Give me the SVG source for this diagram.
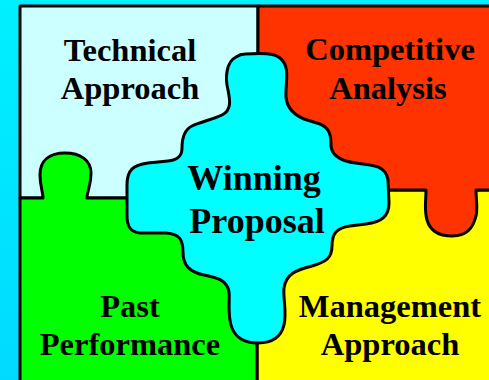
<svg xmlns="http://www.w3.org/2000/svg" width="489" height="380" viewBox="0 0 489 380">
<defs>
<linearGradient id="bg" x1="0" y1="0" x2="0" y2="1">
<stop offset="0" stop-color="#00F0FF"/>
<stop offset="1" stop-color="#00DAFF"/>
</linearGradient>
</defs>
<style>
.p{stroke:#000;stroke-width:3;stroke-linejoin:round}
.t{font-family:"Liberation Serif","Times New Roman",serif;font-weight:bold;font-size:32.5px;fill:#000;text-anchor:middle}
.big{font-size:36px}
</style>
<rect width="489" height="380" fill="url(#bg)"/>
<g id="technical">
<rect class="p" x="20" y="6" width="238" height="192" fill="#CCFFFF"/>
<text class="t" x="130" y="61">Technical</text>
<text class="t" x="130" y="99">Approach</text>
</g>
<g id="management">
<rect class="p" x="257" y="190" width="236" height="195" fill="#FFFF00"/>
<text class="t" x="390" y="317">Management</text>
<text class="t" x="390" y="355">Approach</text>
</g>
<g id="competitive">
<path class="p" fill="#FF3300" d="M258,6 H493 V190 H476 C476,200 478,208 476,216 C473,228 467,236 452,236 C437,236 430,230 427,220 C424,210 426,200 426,190 H258 Z"/>
<text class="t" x="390" y="60">Competitive</text>
<text class="t" x="388" y="99">Analysis</text>
</g>
<g id="past">
<path class="p" fill="#00FF00" d="M20,198 H43 C43,192 40,186 40,175 C40,160 50,153 65,153 C80,153 91,160 91,173 C91,186 87,191 87,198 H257 V385 H20 Z"/>
<text class="t" x="130" y="317">Past</text>
<text class="t" x="130" y="355">Performance</text>
</g>
<g id="winning">
<path class="p" fill="#00FFFF" d="M245,54 C262,53 274,53 280,58 C290,66 286,80 286,92 C285,104 290,113 304,119 L320,124 C330,128 331,136 331,146 C332,156 340,161 356,163 C374,165 386,166 388,180 L389,203 C389,216 382,222 366,224 L350,226 C336,228 332,234 332,246 C332,258 326,262 312,266 C296,270 286,274 284,288 C283,300 287,312 284,325 C281,337 272,343 258,343 C244,343 236,338 232,328 C227,316 230,300 229,292 C227,280 218,278 204,275 C190,272 183,266 183,252 C183,240 180,234 166,233 L140,233 C130,232 127,226 127,215 L127,185 C127,170 133,165 148,163 L168,161 C178,160 182,156 182,148 C182,138 184,130 192,126 C200,122 214,119 222,115 C232,110 230,100 228,90 C225,78 226,62 236,57 C239,55 242,54 245,54 Z"/>
<text class="t big" x="254" y="190">Winning</text>
<text class="t big" x="257" y="233">Proposal</text>
</g>
<g id="connectors"/>
</svg>
